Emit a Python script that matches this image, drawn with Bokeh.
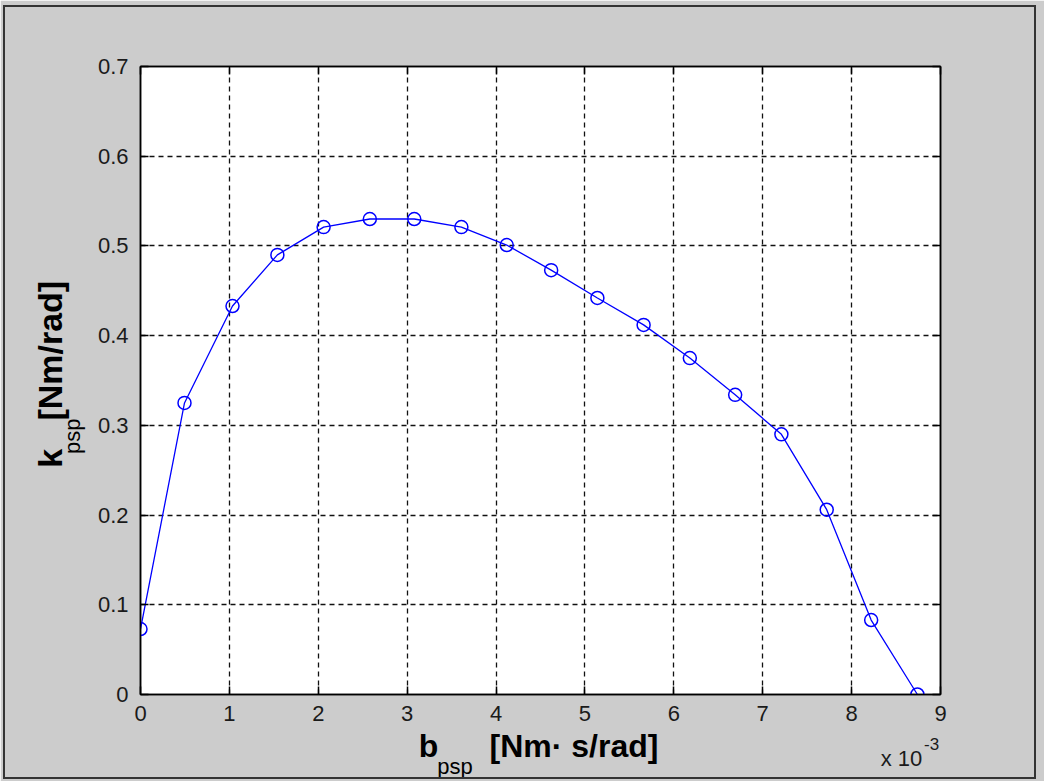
from bokeh.plotting import figure
from bokeh.models import LinearAxis, FixedTicker, Range1d, InlineStyleSheet
from bokeh.embed import file_html
from bokeh.resources import INLINE

# data (b_psp in units of 1e-3 Nm·s/rad)
b_psp_e3 = [0.0, 0.495, 1.035, 1.54, 2.06, 2.58, 3.08, 3.61, 4.12, 4.62,
            5.14, 5.66, 6.18, 6.69, 7.21, 7.72, 8.22, 8.74]
k_psp = [0.073, 0.325, 0.433, 0.490, 0.521, 0.530, 0.530, 0.521, 0.501, 0.473,
         0.442, 0.412, 0.375, 0.334, 0.290, 0.206, 0.083, 0.0]
x_ticks = [0, 1, 2, 3, 4, 5, 6, 7, 8, 9]
y_ticks = [0, 0.1, 0.2, 0.3, 0.4, 0.5, 0.6, 0.7]

# axis-title pieces, anchored at data positions along each axis
x_title_pos = [3.24, 4.877]
x_title_txt = ["b", "[Nm\u00b7 s/rad]"]
x_sub_pos = [3.538]
x_sub_txt = ["psp"]
x_exp_pos = [8.561]
x_exp_txt = ["x 10"]
x_sup_pos = [8.9]
x_sup_txt = ["-3"]
y_title_pos = [0.2633, 0.3832]
y_title_txt = ["k", "[Nm/rad]"]
y_sub_pos = [0.2878]
y_sub_txt = ["psp"]

BG = "#cccccc"
FONT = "Liberation Sans"

p = figure(width=1044, height=781, output_backend="svg", toolbar_location=None,
           x_range=Range1d(0, 9), y_range=Range1d(0, 0.7),
           min_border_left=140, min_border_right=104, min_border_top=66,
           min_border_bottom=87)
p.background_fill_color = "white"
p.border_fill_color = BG
p.outline_line_color = "black"
p.outline_line_width = 1.5
p.stylesheets = [InlineStyleSheet(css=(
    ":host::after{content:'';position:absolute;left:3px;top:5px;right:8px;"
    "bottom:2px;border:2px solid #333333;pointer-events:none;z-index:10;}"))]

for ax in (p.xaxis[0], p.yaxis[0]):
    ax.major_tick_in = 8
    ax.major_tick_out = 0
    ax.minor_tick_in = 0
    ax.minor_tick_out = 0
    ax.axis_line_color = "black"
    ax.axis_line_width = 1.5
    ax.major_tick_line_width = 1.5
    ax.major_label_text_font = FONT
    ax.major_label_text_font_size = "22px"
    ax.major_label_text_color = "#1a1a1a"
p.xaxis[0].ticker = FixedTicker(ticks=x_ticks)
p.yaxis[0].ticker = FixedTicker(ticks=y_ticks)
p.xaxis[0].major_label_standoff = 11
p.yaxis[0].major_label_standoff = 12
p.yaxis[0].major_label_overrides = {0: "0"}

# top/right ticks (box style), no labels
for loc, ticks in (("above", x_ticks), ("right", y_ticks)):
    a = LinearAxis(ticker=FixedTicker(ticks=ticks), major_tick_in=8, major_tick_out=0,
                   minor_tick_in=0, minor_tick_out=0, major_label_text_color=None,
                   major_label_text_font_size="10px",
                   major_tick_line_width=1.5, axis_line_width=1.5, major_label_standoff=0)
    p.add_layout(a, loc)


def title_axis(side, pos, txt, size, bold, standoff, orientation="horizontal",
               color="black"):
    a = LinearAxis(ticker=FixedTicker(ticks=pos),
                   major_label_overrides={v: t for v, t in zip(pos, txt)},
                   axis_line_color=None, major_tick_line_color=None,
                   minor_tick_line_color=None, major_tick_in=0, major_tick_out=0,
                   minor_tick_in=0, minor_tick_out=0,
                   major_label_standoff=standoff, major_label_text_font=FONT,
                   major_label_text_font_size=size,
                   major_label_text_font_style="bold" if bold else "normal",
                   major_label_text_color=color,
                   major_label_orientation=orientation)
    p.add_layout(a, side)


# below panel, stacked outward from the frame
title_axis("below", x_sup_pos, x_sup_txt, "17px", False, 14, color="#1a1a1a")
title_axis("below", x_title_pos, x_title_txt, "32px", True, -25)
title_axis("below", x_exp_pos, x_exp_txt, "22px", False, -21, color="#1a1a1a")
title_axis("below", x_sub_pos, x_sub_txt, "22px", False, -20)
# left panel
title_axis("left", y_sub_pos, y_sub_txt, "22px", False, 9, "vertical")
title_axis("left", y_title_pos, y_title_txt, "34px", True, -12, "vertical")

p.xgrid.ticker = FixedTicker(ticks=x_ticks)
p.ygrid.ticker = FixedTicker(ticks=y_ticks)
for g in (p.xgrid[0], p.ygrid[0]):
    g.grid_line_color = "#111111"
    g.grid_line_dash = "5 4"
    g.grid_line_width = 1.3
    g.grid_line_alpha = 1.0

p.line(b_psp_e3, k_psp, line_color="#0000ff", line_width=1.3)
p.scatter(b_psp_e3, k_psp, marker="circle", size=13, fill_color=None,
          line_color="#0000ff", line_width=1.5)

open("out.html", "w").write(file_html(p, INLINE))
